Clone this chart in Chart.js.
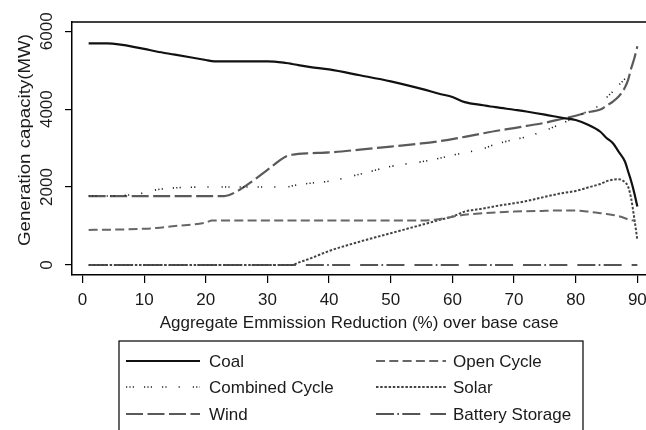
<!DOCTYPE html>
<html>
<head>
<meta charset="utf-8">
<script src="https://cdn.jsdelivr.net/npm/chart.js@4"></script>
<style>
  html, body { margin: 0; padding: 0; background: #fff; }
  #chart { display: block; }
</style>
</head>
<body>
<canvas id="chart" width="646" height="430"></canvas>
<script>
// emission reduction (%) sample points
const reduction = [1, 4, 10, 12, 15, 20, 21, 23, 25, 28, 30, 33, 34, 35, 37, 40, 45, 50, 55, 58, 60, 62, 65, 67, 70, 72, 75, 78, 80, 82, 84, 85, 86, 87, 88, 88.5, 89, 89.5, 90];

const coal = [5690, 5690, 5546, 5480, 5400, 5262, 5235, 5227, 5227, 5227, 5227, 5185, 5160, 5130, 5080, 5020, 4870, 4713, 4520, 4390, 4311, 4180, 4100, 4050, 3985, 3940, 3860, 3771, 3720, 3600, 3420, 3260, 3130, 2900, 2650, 2400, 2150, 1850, 1500];
const openCycle = [900, 905, 930, 950, 1000, 1090, 1140, 1140, 1140, 1140, 1140, 1140, 1140, 1140, 1140, 1140, 1140, 1140, 1140, 1180, 1240, 1290, 1330, 1350, 1370, 1380, 1390, 1400, 1397, 1370, 1329, 1310, 1285, 1250, 1200, 1170, 1150, 1140, null];
const combinedCycle = [1770, 1770, 1850, 1930, 1980, 2000, 2000, 2000, 2000, 2000, 2000, 2000, 2030, 2060, 2100, 2150, 2330, 2530, 2650, 2743, 2820, 2880, 2990, 3100, 3220, 3290, 3450, 3650, 3800, 3950, 4120, 4300, 4450, 4620, 4780, null, null, null, null];
const solar = [0, 0, 0, 0, 0, 0, 0, 0, 0, 0, 0, 0, 0, 60, 170, 360, 600, 815, 1030, 1160, 1243, 1370, 1450, 1510, 1586, 1640, 1750, 1850, 1900, 1990, 2080, 2150, 2190, 2200, 2120, 2013, 1700, 1200, 643];
const wind = [1770, 1770, 1770, 1770, 1770, 1770, 1770, 1770, 1885, 2200, 2442, 2785, 2830, 2854, 2870, 2890, 2960, 3040, 3120, 3180, 3230, 3290, 3380, 3440, 3514, 3570, 3650, 3760, 3830, 3920, 3990, 4090, 4190, 4330, 4560, 4750, 5050, 5300, 5613];
const battery = [0, 0, 0, 0, 0, 0, 0, 0, 0, 0, 0, 0, 0, 0, 0, 0, 0, 0, 0, 0, 0, 0, 0, 0, 0, 0, 0, 0, 0, 0, 0, 0, 0, 0, 0, 0, 0, 0, 0];

const xTicks = [0, 10, 20, 30, 40, 50, 60, 70, 80, 90];
const yTicks = [0, 2000, 4000, 6000];

const FONT = '"Liberation Sans", Arial, sans-serif';
const TEXT = '#1a1a1a';

function pts(vals) {
  return vals.map((v, i) => ({ x: reduction[i], y: v }));
}

const series = [
  { label: 'Coal', data: coal, color: '#111', width: 2.2, dash: [] },
  { label: 'Open Cycle', data: openCycle, color: '#666', width: 2, dash: [9, 4.3] },
  { label: 'Combined Cycle', data: combinedCycle, color: '#222', width: 1.6, dash: [1.2, 2.2, 1.2, 2.2, 1.2, 10, 1.2, 2.2, 1.2, 2.2, 1.2, 10, 1.2, 2.2, 1.2, 12, 1.2, 13] },
  { label: 'Solar', data: solar, color: '#444', width: 2, dash: [2.5, 1.7] },
  { label: 'Wind', data: wind, color: '#5a5a5a', width: 2.2, dash: [17, 4.5] },
  { label: 'Battery Storage', data: battery, color: '#555', width: 2, dash: [18, 3.3, 1.7, 3.3, 18, 10] },
];

const frame = {
  id: 'frame',
  afterDraw(chart) {
    const { ctx, chartArea: a, scales: { y } } = chart;
    ctx.save();
    // top border of the box
    ctx.strokeStyle = '#000';
    ctx.lineWidth = 1.5;
    ctx.beginPath();
    ctx.moveTo(a.left, a.top);
    ctx.lineTo(a.right, a.top);
    ctx.stroke();

    // rotated y tick labels
    ctx.fillStyle = TEXT;
    ctx.font = '17px ' + FONT;
    ctx.textAlign = 'center';
    ctx.textBaseline = 'middle';
    for (const v of yTicks) {
      ctx.save();
      ctx.translate(47, y.getPixelForValue(v));
      ctx.rotate(-Math.PI / 2);
      ctx.fillText(String(v), 0, 0);
      ctx.restore();
    }
    ctx.save();
    ctx.translate(25, 140);
    ctx.rotate(-Math.PI / 2);
    ctx.scale(1.1, 1);
    ctx.fillText('Generation capacity(MW)', 0, 0);
    ctx.restore();

    // legend
    const bx = 119, by = 341, bw = 464;
    ctx.lineWidth = 1.2;
    ctx.strokeRect(bx, by, bw, 100);
    const rows = [361, 387, 414];
    const cols = [{ l: 126, r: 200, t: 209 }, { l: 376, r: 446, t: 453 }];
    series.forEach((s, k) => {
      const c = cols[k % 2];
      const ry = rows[Math.floor(k / 2)];
      ctx.strokeStyle = s.color;
      ctx.lineWidth = s.width;
      ctx.setLineDash(s.dash);
      ctx.beginPath();
      ctx.moveTo(c.l, ry);
      ctx.lineTo(c.r, ry);
      ctx.stroke();
      ctx.setLineDash([]);
      ctx.fillStyle = TEXT;
      ctx.textAlign = 'left';
      ctx.fillText(s.label, c.t, ry + 1);
    });
    ctx.restore();
  }
};

new Chart(document.getElementById('chart'), {
  type: 'line',
  data: {
    datasets: series.map(s => ({
      label: s.label,
      data: pts(s.data),
      borderColor: s.color,
      borderWidth: s.width,
      borderDash: s.dash,
      pointRadius: 0,
      fill: false,
      spanGaps: false,
      cubicInterpolationMode: 'monotone',
    }))
  },
  options: {
    responsive: false,
    animation: false,
    parsing: false,
    layout: { padding: { top: 22, left: 0, right: 0, bottom: 95 } },
    plugins: { legend: { display: false }, tooltip: { enabled: false } },
    scales: {
      x: {
        type: 'linear',
        min: -1.7,
        max: 91.4,
        afterBuildTicks: s => { s.ticks = xTicks.map(v => ({ value: v })); },
        afterFit: s => { s.height = 60; s.paddingLeft = 0; s.paddingRight = 0; },
        grid: { display: true, drawOnChartArea: false, drawTicks: true, tickLength: 8, color: '#000', lineWidth: 1.2 },
        border: { display: true, color: '#000', width: 1.5 },
        ticks: { color: TEXT, font: { family: FONT, size: 17 }, padding: 7, maxRotation: 0, autoSkip: false },
        title: { display: true, text: 'Aggregate Emmission Reduction (%) over base case', color: TEXT, font: { family: FONT, size: 17 }, padding: { top: 2, bottom: 1 } }
      },
      y: {
        min: -257,
        max: 6237,
        afterBuildTicks: s => { s.ticks = yTicks.map(v => ({ value: v })); },
        afterFit: s => { s.width = 72; },
        grid: { display: true, drawOnChartArea: false, drawTicks: true, tickLength: 7, color: '#000', lineWidth: 1.2 },
        border: { display: true, color: '#000', width: 1.5 },
        ticks: { display: false }
      }
    }
  },
  plugins: [frame]
});
</script>
</body>
</html>
